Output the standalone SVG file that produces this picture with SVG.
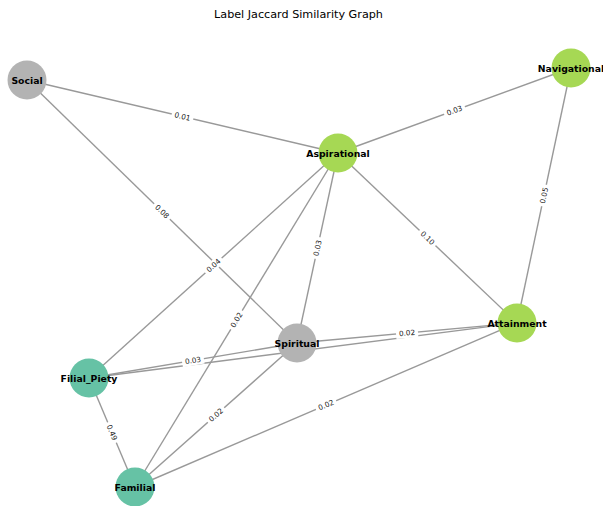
<svg xmlns="http://www.w3.org/2000/svg" width="603" height="506" viewBox="0 0 603 506">
<style>
.e{stroke:#999999;stroke-width:1.4;fill:none}
.lb{fill:#ffffff}
.lt{font-family:"DejaVu Sans","Liberation Sans",sans-serif;font-size:7.3px;fill:#222;text-anchor:middle;dominant-baseline:central}
.nt{font-family:"DejaVu Sans","Liberation Sans",sans-serif;font-size:9.3px;font-weight:bold;fill:#000;text-anchor:middle;dominant-baseline:central}
.gray{fill:#b3b3b3}
.lime{fill:#a6d854}
.teal{fill:#66c2a5}
</style>
<rect width="603" height="506" fill="#ffffff"/>
<text x="298.5" y="18" font-family="DejaVu Sans, Liberation Sans, sans-serif" font-size="11.2" text-anchor="middle" fill="#000">Label Jaccard Similarity Graph</text>
<g id="connectors">
<line class="e" x1="27" y1="80" x2="338" y2="153"/>
<line class="e" x1="27" y1="80" x2="297" y2="343"/>
<line class="e" x1="338" y1="153" x2="571" y2="68"/>
<line class="e" x1="338" y1="153" x2="517" y2="323"/>
<line class="e" x1="338" y1="153" x2="297" y2="343"/>
<line class="e" x1="338" y1="153" x2="89" y2="378"/>
<line class="e" x1="338" y1="153" x2="135" y2="487"/>
<line class="e" x1="571" y1="68" x2="517" y2="323"/>
<line class="e" x1="297" y1="343" x2="517" y2="323"/>
<line class="e" x1="89" y1="378" x2="297" y2="343"/>
<line class="e" x1="89" y1="378" x2="517" y2="323"/>
<line class="e" x1="297" y1="343" x2="135" y2="487"/>
<line class="e" x1="89" y1="378" x2="135" y2="487"/>
<line class="e" x1="135" y1="487" x2="517" y2="323"/>
<g transform="translate(182.5,116.5) rotate(13.2)"><rect class="lb" x="-11" y="-5" width="22" height="10"/><text class="lt">0.01</text></g>
<g transform="translate(162,211.5) rotate(44.2)"><rect class="lb" x="-11" y="-5" width="22" height="10"/><text class="lt">0.08</text></g>
<g transform="translate(454.5,110.5) rotate(-20)"><rect class="lb" x="-11" y="-5" width="22" height="10"/><text class="lt">0.03</text></g>
<g transform="translate(427.5,238) rotate(43.5)"><rect class="lb" x="-11" y="-5" width="22" height="10"/><text class="lt">0.10</text></g>
<g transform="translate(317.5,248) rotate(-77.8)"><rect class="lb" x="-11" y="-5" width="22" height="10"/><text class="lt">0.03</text></g>
<g transform="translate(213.5,265.5) rotate(-42.1)"><rect class="lb" x="-11" y="-5" width="22" height="10"/><text class="lt">0.04</text></g>
<g transform="translate(236.5,320) rotate(-58.7)"><rect class="lb" x="-11" y="-5" width="22" height="10"/><text class="lt">0.02</text></g>
<g transform="translate(544,195.5) rotate(-78)"><rect class="lb" x="-11" y="-5" width="22" height="10"/><text class="lt">0.05</text></g>
<g transform="translate(407,333) rotate(-5.2)"><rect class="lb" x="-11" y="-5" width="22" height="10"/><text class="lt">0.02</text></g>
<g transform="translate(193,360.5) rotate(-9.6)"><rect class="lb" x="-11" y="-5" width="22" height="10"/><text class="lt">0.03</text></g>
<g transform="translate(216,415) rotate(-41.6)"><rect class="lb" x="-11" y="-5" width="22" height="10"/><text class="lt">0.02</text></g>
<g transform="translate(112,432.5) rotate(67.1)"><rect class="lb" x="-11" y="-5" width="22" height="10"/><text class="lt">0.49</text></g>
<g transform="translate(326,405) rotate(-23.2)"><rect class="lb" x="-11" y="-5" width="22" height="10"/><text class="lt">0.02</text></g>
</g>
<g id="node-social"><circle class="gray" cx="27" cy="80" r="19.5"/><text class="nt" x="27" y="80">Social</text></g>
<g id="node-aspirational"><circle class="lime" cx="338" cy="153" r="19.5"/><text class="nt" x="338" y="153">Aspirational</text></g>
<g id="node-navigational"><circle class="lime" cx="571" cy="68" r="19.5"/><text class="nt" x="571" y="68">Navigational</text></g>
<g id="node-attainment"><circle class="lime" cx="517" cy="323" r="19.5"/><text class="nt" x="517" y="323">Attainment</text></g>
<g id="node-spiritual"><circle class="gray" cx="297" cy="343" r="19.5"/><text class="nt" x="297" y="343">Spiritual</text></g>
<g id="node-filial-piety"><circle class="teal" cx="89" cy="378" r="19.5"/><text class="nt" x="89" y="378">Filial_Piety</text></g>
<g id="node-familial"><circle class="teal" cx="135" cy="487" r="19.5"/><text class="nt" x="135" y="487">Familial</text></g>
</svg>
